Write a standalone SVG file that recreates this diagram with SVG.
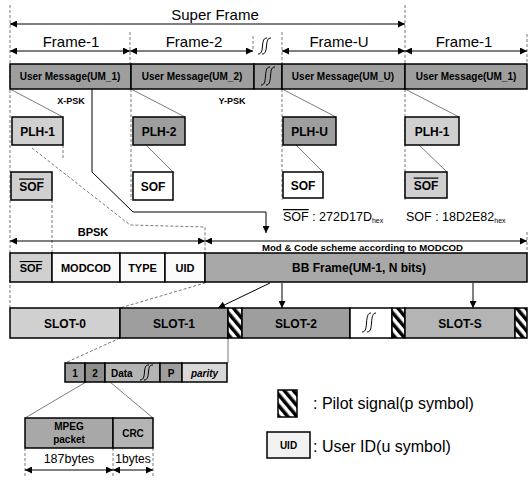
<svg xmlns="http://www.w3.org/2000/svg" width="532" height="481" viewBox="0 0 532 481">
<defs>
<marker id="ah" viewBox="0 0 10 10" refX="10" refY="5" markerWidth="9" markerHeight="7" markerUnits="userSpaceOnUse" orient="auto-start-reverse"><path d="M0,0 L10,5 L0,10 Z" fill="#000"/></marker>
<pattern id="hatch" width="7" height="7" patternUnits="userSpaceOnUse" patternTransform="rotate(-40)"><rect width="7" height="7" fill="#fff"/><rect width="3.5" height="7" fill="#000"/></pattern>
<style>
text{font-family:"Liberation Sans",Arial,sans-serif;fill:#000}
.t15{font-size:15px}
.b10{font-size:10px;font-weight:bold;text-anchor:middle}
.b11{font-size:11px;font-weight:bold;text-anchor:middle}
.b12{font-size:12px;font-weight:bold;text-anchor:middle}
.box{stroke:#000;stroke-width:1.5}
.dk{fill:#9e9e9e}
.md{fill:#b4b4b4}
.lt{fill:#d0d0d0}
.wh{fill:#fafafa}
.dash{stroke:#555;stroke-width:0.8;stroke-dasharray:3,2;fill:none}
.thin{stroke:#444;stroke-width:0.7;fill:none}
.sol{stroke:#000;stroke-width:1;fill:none}
.arr{stroke:#000;stroke-width:1;fill:none;marker-start:url(#ah);marker-end:url(#ah)}
.arr1{stroke:#000;stroke-width:1;fill:none;marker-end:url(#ah)}
.brk{stroke:#000;stroke-width:1;fill:none}
.ol{text-decoration:overline}
</style>
</defs>
<rect width="532" height="481" fill="#fff"/>

<g id="connectors">
  <line class="dash" x1="10" y1="5" x2="10" y2="310"/>
  <line class="dash" x1="130" y1="32" x2="130" y2="64"/>
  <line class="dash" x1="253" y1="36" x2="253" y2="50"/>
  <line class="dash" x1="282" y1="32" x2="282" y2="64"/>
  <line class="dash" x1="405" y1="5" x2="405" y2="64"/>
  <line class="dash" x1="527" y1="34" x2="527" y2="64"/>
  <line class="arr" x1="10" y1="24" x2="405" y2="24"/>
  <line class="arr" x1="10" y1="51" x2="130" y2="51"/>
  <line class="arr" x1="130" y1="51" x2="253" y2="51"/>
  <line class="arr" x1="282" y1="51" x2="405" y2="51"/>
  <line class="arr" x1="405" y1="51" x2="527" y2="51"/>
  <line class="thin" x1="10" y1="89" x2="63" y2="117"/>
  <line class="thin" x1="131" y1="89" x2="185" y2="117"/>
  <line class="thin" x1="282" y1="89" x2="336" y2="117"/>
  <line class="thin" x1="405" y1="89" x2="459" y2="117"/>
  <line class="dash" x1="131" y1="89" x2="131" y2="200"/>
  <line class="dash" x1="282" y1="89" x2="282" y2="200"/>
  <line class="dash" x1="405" y1="89" x2="405" y2="200"/>
  <line class="thin" x1="146" y1="145" x2="173" y2="172"/>
  <line class="thin" x1="296" y1="145" x2="323" y2="172"/>
  <line class="thin" x1="419" y1="145" x2="447" y2="172"/>
  <line class="dash" x1="63" y1="145" x2="63" y2="160"/>
  <line class="dash" x1="52" y1="200" x2="52" y2="253"/>
  <polyline class="dash" points="32,148 130,225 205,227 205,283 120,308"/>
  <polyline class="sol" points="92,89 92,172 133,212 266,212 266,233" marker-end="url(#ah)"/>
  <line class="arr" x1="10" y1="241" x2="205" y2="241"/>
  <line class="arr" x1="205" y1="241" x2="527" y2="241"/>
  <line class="dash" x1="527" y1="232" x2="527" y2="253"/>
  <line class="arr1" x1="270" y1="283" x2="218" y2="308"/>
  <line class="arr1" x1="282" y1="283" x2="282" y2="308"/>
  <line class="arr1" x1="473" y1="283" x2="473" y2="308"/>
  <line class="dash" x1="120" y1="338" x2="65" y2="363"/>
  <line class="thin" x1="228" y1="338" x2="228" y2="363"/>
  <line class="thin" x1="86" y1="382" x2="25" y2="418"/>
  <line class="thin" x1="110" y1="382" x2="153" y2="418"/>
  <line class="dash" x1="25" y1="448" x2="25" y2="476"/>
  <line class="dash" x1="113" y1="448" x2="113" y2="476"/>
  <line class="dash" x1="153" y1="448" x2="153" y2="476"/>
  <line class="arr" x1="25" y1="470" x2="113" y2="470"/>
  <line class="arr" x1="113" y1="470" x2="153" y2="470"/>
</g>

<g id="labels-top">
  <text class="t15" x="215" y="20" text-anchor="middle">Super Frame</text>
  <text class="t15" x="71" y="47" text-anchor="middle">Frame-1</text>
  <text class="t15" x="194" y="47" text-anchor="middle">Frame-2</text>
  <text class="t15" x="339" y="47" text-anchor="middle">Frame-U</text>
  <text class="t15" x="464" y="47" text-anchor="middle">Frame-1</text>
  <path class="brk" d="M258,54 C261,54 262,52 262.5,46 C263,40 264,38 267,38 M262,54 C265,54 266,52 266.5,46 C267,40 268,38 271,38"/>
</g>

<g id="um-bar">
  <rect class="box dk" x="10" y="64" width="121" height="25"/>
  <rect class="box dk" x="131" y="64" width="123" height="25"/>
  <rect class="box dk" x="254" y="64" width="28" height="25"/>
  <rect class="box dk" x="282" y="64" width="123" height="25"/>
  <rect class="box dk" x="405" y="64" width="122" height="25"/>
  <text class="b10" x="70" y="80">User Message(UM_1)</text>
  <text class="b10" x="192" y="80">User Message(UM_2)</text>
  <text class="b10" x="343" y="80">User Message(UM_U)</text>
  <text class="b10" x="466" y="80">User Message(UM_1)</text>
  <path class="brk" d="M261,85 C264,85 265,83 265.5,76 C266,69 267,67 270,67 M266,85 C269,85 270,83 270.5,76 C271,69 272,67 275,67"/>
  <text x="71" y="104" style="font-size:9px;font-weight:bold;text-anchor:middle">X-PSK</text>
  <text x="232" y="104" style="font-size:9px;font-weight:bold;text-anchor:middle">Y-PSK</text>
</g>

<g id="plh">
  <rect class="box lt" x="12" y="117" width="51" height="28"/>
  <text class="b12" x="37.5" y="135.5">PLH-1</text>
  <rect class="box dk" x="133" y="117" width="52" height="28"/>
  <text class="b12" x="159" y="135.5">PLH-2</text>
  <rect class="box dk" x="283" y="117" width="53" height="28"/>
  <text class="b12" x="309.5" y="135.5">PLH-U</text>
  <rect class="box lt" x="405" y="117" width="54" height="28"/>
  <text class="b12" x="432" y="135.5">PLH-1</text>
</g>

<g id="sof">
  <rect class="box lt" x="11" y="172" width="41" height="28"/>
  <text class="b12 ol" x="31.5" y="190.5">SOF</text>
  <rect class="box" fill="#fff" x="133" y="172" width="40" height="28"/>
  <text class="b12" x="153" y="190.5">SOF</text>
  <rect class="box" fill="#fff" x="283" y="172" width="40" height="26"/>
  <text class="b12" x="303" y="189.5">SOF</text>
  <rect class="box lt" x="405" y="172" width="42" height="26"/>
  <text class="b12 ol" x="426" y="189.5">SOF</text>
  <text x="283" y="221" style="font-size:12.5px"><tspan class="ol">SOF</tspan> : 272D17D<tspan style="font-size:7px" dy="2">hex</tspan></text>
  <text x="406" y="221" style="font-size:12.5px">SOF : 18D2E82<tspan style="font-size:7px" dy="2">hex</tspan></text>
</g>

<g id="header">
  <text x="93" y="236" style="font-size:11px;font-weight:bold;text-anchor:middle">BPSK</text>
  <text x="262" y="251" style="font-size:9.6px;font-weight:bold">Mod &amp; Code scheme according to MODCOD</text>
  <rect class="box lt" x="10" y="253" width="42" height="29"/>
  <text class="b11 ol" x="31" y="272">SOF</text>
  <rect class="box wh" x="52" y="253" width="68" height="29"/>
  <text class="b11" x="86" y="272">MODCOD</text>
  <rect class="box wh" x="120" y="253" width="45" height="29"/>
  <text class="b11" x="142.5" y="272">TYPE</text>
  <rect class="box wh" x="165" y="253" width="40" height="29"/>
  <text class="b11" x="185" y="272">UID</text>
  <rect class="box" fill="#a8a8a8" x="205" y="253" width="322" height="29"/>
  <text class="b12" x="359" y="272">BB Frame(UM-1, N bits)</text>
</g>

<g id="slots">
  <rect class="box lt" x="10" y="308" width="110" height="30"/>
  <text class="b12" x="65" y="327.5">SLOT-0</text>
  <rect class="box dk" x="120" y="308" width="108" height="30"/>
  <text class="b12" x="174" y="327.5">SLOT-1</text>
  <rect class="box" fill="url(#hatch)" x="228" y="308" width="14" height="30"/>
  <rect class="box dk" x="242" y="308" width="108" height="30"/>
  <text class="b12" x="296" y="327.5">SLOT-2</text>
  <rect class="box" fill="#fff" x="350" y="308" width="42" height="30"/>
  <path class="brk" d="M362,332 C365,332 366,330 366.5,323 C367,316 368,313 371,313 M367,332 C370,332 371,330 371.5,323 C372,316 373,313 376,313"/>
  <rect class="box" fill="url(#hatch)" x="392" y="308" width="13" height="30"/>
  <rect class="box md" x="405" y="308" width="110" height="30"/>
  <text class="b12" x="460" y="327.5">SLOT-S</text>
  <rect class="box" fill="url(#hatch)" x="515" y="308" width="12" height="30"/>
</g>

<g id="slot-detail">
  <rect class="box dk" x="65" y="363" width="20" height="19"/>
  <text class="b10" x="75" y="377">1</text>
  <rect class="box" fill="#8e8e8e" x="85" y="363" width="20" height="19"/>
  <text class="b10" x="95" y="377">2</text>
  <rect class="box md" x="105" y="363" width="55" height="19"/>
  <text x="111" y="377" style="font-size:10px;font-weight:bold">Data</text>
  <path class="brk" d="M140,380 C143,380 144,378 144.5,372 C145,366 146,365 149,365 M144,380 C147,380 148,378 148.5,372 C149,366 150,365 153,365"/>
  <rect class="box dk" x="160" y="363" width="22" height="19"/>
  <text class="b10" x="171" y="377">P</text>
  <rect class="box" fill="#d8d8d8" x="182" y="363" width="45" height="19"/>
  <text class="b10" x="204.5" y="377" style="font-style:italic">parity</text>
</g>

<g id="packet">
  <rect class="box" fill="#a8a8a8" x="25" y="418" width="88" height="30"/>
  <text class="b10" x="69" y="430">MPEG</text>
  <text class="b10" x="69" y="443">packet</text>
  <rect class="box md" x="113" y="418" width="40" height="30"/>
  <text class="b10" x="133" y="437">CRC</text>
  <text x="69" y="463" style="font-size:12.5px;text-anchor:middle">187bytes</text>
  <text x="133" y="463" style="font-size:12px;text-anchor:middle">1bytes</text>
</g>

<g id="legend">
  <rect class="box" fill="url(#hatch)" x="278" y="390" width="19" height="27"/>
  <text x="313" y="409" style="font-size:16px">: Pilot signal(p symbol)</text>
  <rect class="box" fill="#f2f2f2" x="267" y="432" width="43" height="26"/>
  <text x="288.5" y="449" style="font-size:10px;font-weight:bold;text-anchor:middle">UID</text>
  <text x="313" y="452" style="font-size:16px">: User ID(u symbol)</text>
</g>
</svg>
